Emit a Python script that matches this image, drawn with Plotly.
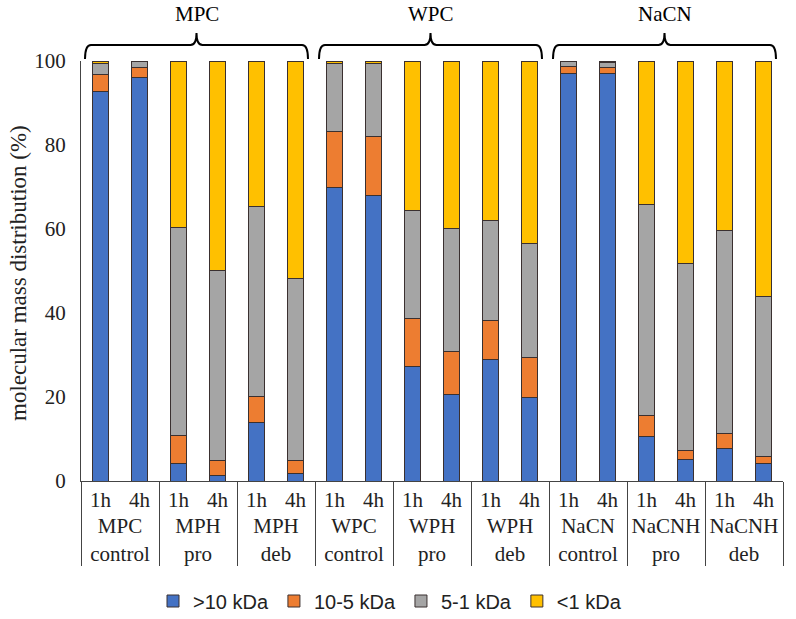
import plotly.graph_objects as go

groups = ["MPC", "WPC", "NaCN"]
categories = ["MPC<br>control", "MPH<br>pro", "MPH<br>deb",
              "WPC<br>control", "WPH<br>pro", "WPH<br>deb",
              "NaCN<br>control", "NaCNH<br>pro", "NaCNH<br>deb"]
times = ["1h", "4h"]

gt10 = [92.7, 96.1, 4.2, 1.4, 13.9, 1.7,
        69.8, 67.9, 27.2, 20.5, 29.0, 19.8,
        97.1, 97.1, 10.6, 5.2, 7.8, 4.2]
k10_5 = [4.1, 2.4, 6.6, 3.4, 6.3, 3.1,
         13.3, 14.1, 11.4, 10.4, 9.1, 9.7,
         1.5, 1.3, 5.0, 2.1, 3.6, 1.6]
k5_1 = [2.6, 1.3, 49.6, 45.3, 45.1, 43.5,
        16.2, 17.3, 25.8, 29.3, 24.0, 27.0,
        1.4, 1.2, 50.3, 44.4, 48.2, 38.2]
lt1 = [0.6, 0.2, 39.6, 49.9, 34.7, 51.7,
       0.7, 0.7, 35.6, 39.8, 37.9, 43.5,
       0.0, 0.4, 34.1, 48.3, 40.4, 56.0]

series = [(">10 kDa", gt10, "#4472C4"),
          ("10-5 kDa", k10_5, "#ED7D31"),
          ("5-1 kDa", k5_1, "#A5A5A5"),
          ("<1 kDa", lt1, "#FFC000")]

outer = [c for c in categories for _ in times]
inner = [t for _ in categories for t in times]

fig = go.Figure()
for name, vals, col in series:
    fig.add_trace(go.Bar(x=[outer, inner], y=vals, name=name,
                         marker=dict(color=col, line=dict(color="#3a3030", width=1))))

serif = "Liberation Serif, Times New Roman, serif"
W, H = 796, 619
# target plot area on the page: x 81..783, y 61..481
L = 81
T = 61
pw = 702
ph = 420
R = W - L - pw
B = H - T - ph

def px2x(px):
    return (px - L) / pw

def py2y(py):
    return (T + ph - py) / ph

shapes = []
annotations = []
ncat = len(categories)
per = ncat // len(groups)
slot = pw / ncat
for g, name in enumerate(groups):
    x0 = L + g * per * slot + 4
    x1 = L + (g + 1) * per * slot - 7
    cx = (x0 + x1) / 2
    yb, yh, yt = 59, 45, 33
    r = 6
    p = (f"M {px2x(x0)} {py2y(yb)} "
         f"Q {px2x(x0)} {py2y(yh)} {px2x(x0 + r)} {py2y(yh)} "
         f"L {px2x(cx - r)} {py2y(yh)} "
         f"Q {px2x(cx)} {py2y(yh)} {px2x(cx)} {py2y(yt)} "
         f"Q {px2x(cx)} {py2y(yh)} {px2x(cx + r)} {py2y(yh)} "
         f"L {px2x(x1 - r)} {py2y(yh)} "
         f"Q {px2x(x1)} {py2y(yh)} {px2x(x1)} {py2y(yb)}")
    shapes.append(dict(type="path", path=p, xref="paper", yref="paper",
                       line=dict(color="black", width=2)))
    annotations.append(dict(text=name, x=px2x(cx), y=py2y(14), xref="paper", yref="paper",
                            showarrow=False, font=dict(family=serif, size=21, color="black"),
                            xanchor="center", yanchor="middle"))

annotations.append(dict(text="molecular mass distribution (%)", textangle=-90,
                        x=px2x(18), y=py2y(273), xref="paper", yref="paper",
                        showarrow=False, xanchor="center", yanchor="middle",
                        font=dict(family=serif, size=23, color="#222")))

fig.update_layout(
    barmode="stack",
    bargap=0.6,
    width=W, height=H,
    margin=dict(l=L, r=R, t=T, b=B, autoexpand=False),
    plot_bgcolor="white", paper_bgcolor="white",
    shapes=shapes, annotations=annotations,
    legend=dict(orientation="h", x=px2x(390), xanchor="center", y=py2y(601), yanchor="middle",
                font=dict(family="Liberation Sans, Arial, sans-serif", size=20, color="#222"),
                traceorder="normal", itemwidth=30),
    yaxis=dict(range=[0, 100], dtick=20, showgrid=False, zeroline=False,
               showline=True, linecolor="#444", linewidth=1, ticks="",
               automargin=False, ticklabelstandoff=10,
               tickfont=dict(family=serif, size=21, color="#222")),
    xaxis=dict(type="multicategory", showline=True, linecolor="#444", linewidth=1,
               showdividers=True, dividercolor="#444", dividerwidth=1, automargin=False,
               ticks="",
               tickfont=dict(family=serif, size=21, color="#222"), showgrid=False),
)

fig.write_html("out.html", config={"displayModeBar": False},
               post_script="document.body.style.margin='0px';")
